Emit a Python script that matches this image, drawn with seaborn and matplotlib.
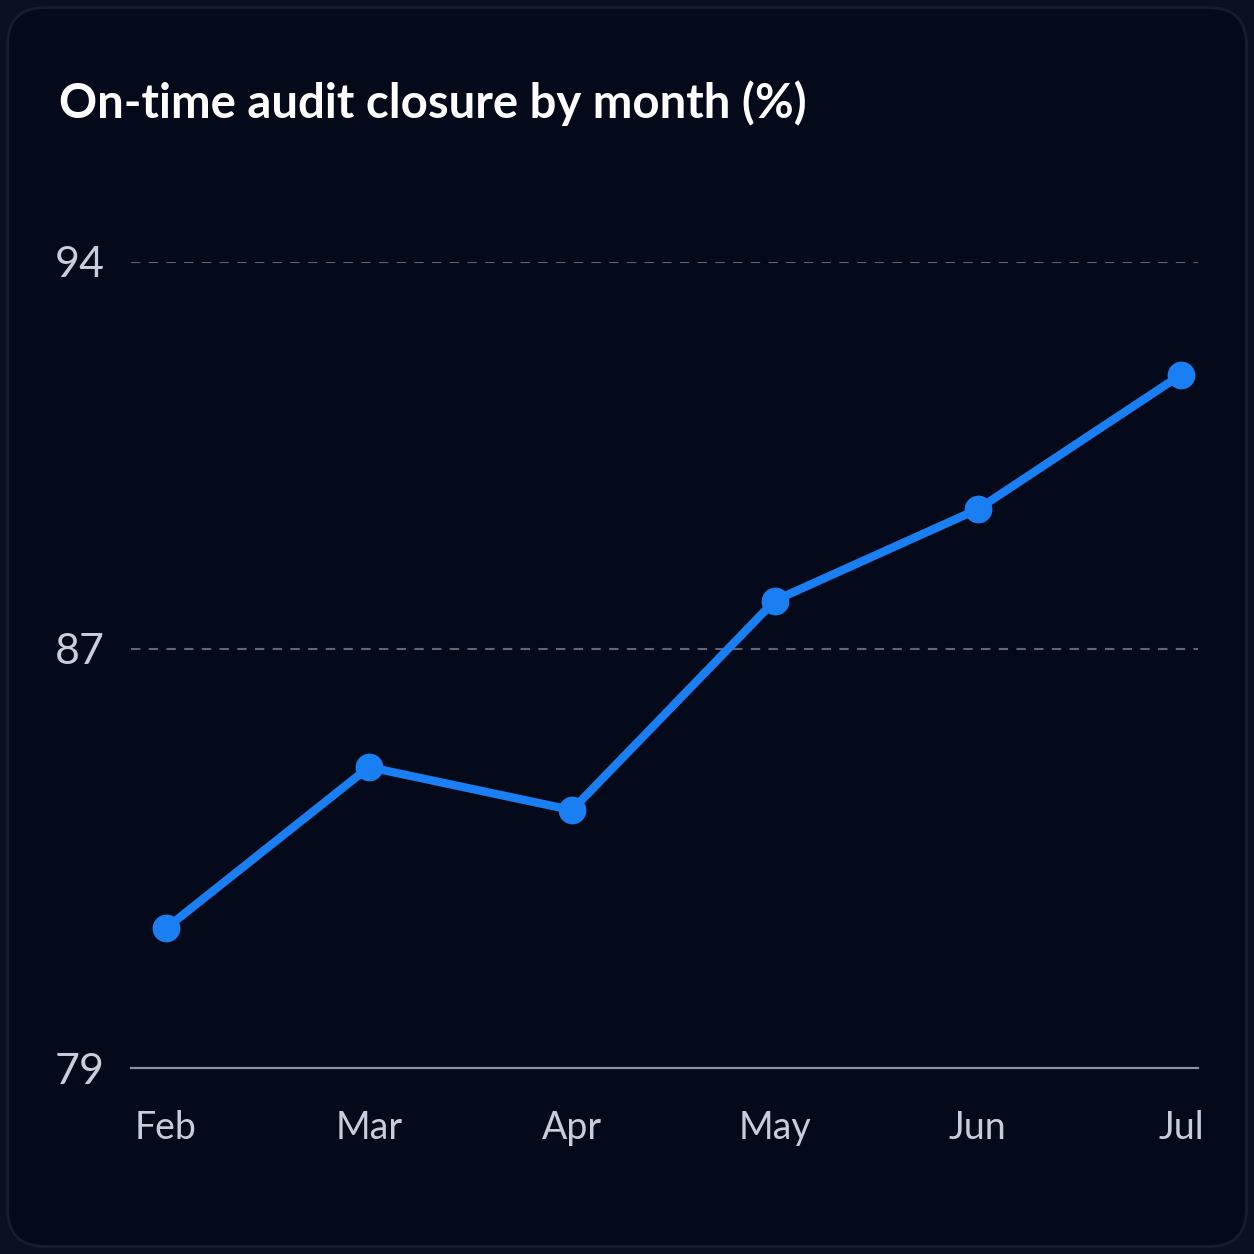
import numpy as np
import pandas as pd
import matplotlib
matplotlib.use("Agg")
import matplotlib.pyplot as plt
from matplotlib.patches import FancyBboxPatch
import seaborn as sns

# data
months = ["Feb", "Mar", "Apr", "May", "Jun", "Jul"]
closure_pct = [81.6, 84.6, 83.8, 87.7, 89.4, 91.9]
y_ticks = [79, 86.8, 94]
y_tick_labels = ["79", "87", "94"]

df = pd.DataFrame({"month": months, "pct": closure_pct})
df["pos"] = np.arange(len(months))

BG = "#040a19"
LINE = "#1a7ff2"
TXT = "#c9ccd9"

sns.set_theme(style="dark")
plt.rcParams["font.family"] = ["Lato", "DejaVu Sans"]

fig = plt.figure(figsize=(12.54, 12.54), dpi=100)
fig.patch.set_facecolor("#0b1120")

# rounded card background
card = FancyBboxPatch((0.006, 0.006), 0.988, 0.988,
                      boxstyle="round,pad=0,rounding_size=0.03",
                      transform=fig.transFigure, facecolor=BG,
                      edgecolor="#161d2c", linewidth=2, zorder=-5)
fig.patches.append(card)

ax = fig.add_axes([0.1045, 0.1483, 0.8508, 0.6428])
ax.set_facecolor("none")

sns.lineplot(data=df, x="pos", y="pct", ax=ax, color=LINE, linewidth=6,
             marker="o", markersize=20, markeredgewidth=0,
             markerfacecolor=LINE, clip_on=False, zorder=3)

ax.set_xlim(-0.172, 5.084)
ax.set_ylim(79, 94)
ax.set_xticks(df["pos"])
ax.set_xticklabels(months)
ax.set_yticks(y_ticks)
ax.set_yticklabels(y_tick_labels)
ax.set_xlabel("")
ax.set_ylabel("")

ax.tick_params(axis="y", colors=TXT, labelsize=31, length=0, pad=19)
ax.tick_params(axis="x", colors=TXT, labelsize=27, length=0, pad=30)
for lbl in ax.get_xticklabels():
    lbl.set_x(lbl.get_position()[0])

ax.grid(False)
for v in y_ticks[1:]:
    ax.axhline(v, color="#5c6679", linestyle=(0, (4.5, 4)), linewidth=1.5, zorder=1)

for s in ["top", "right", "left"]:
    ax.spines[s].set_visible(False)
ax.spines["bottom"].set_color("#8a92a6")
ax.spines["bottom"].set_linewidth(1.6)

fig.text(0.047, 0.906, "On-time audit closure by month (%)", color="white",
         fontsize=34, fontweight="bold", ha="left", va="baseline")

fig.savefig("out.png", dpi=100, facecolor=fig.get_facecolor())
